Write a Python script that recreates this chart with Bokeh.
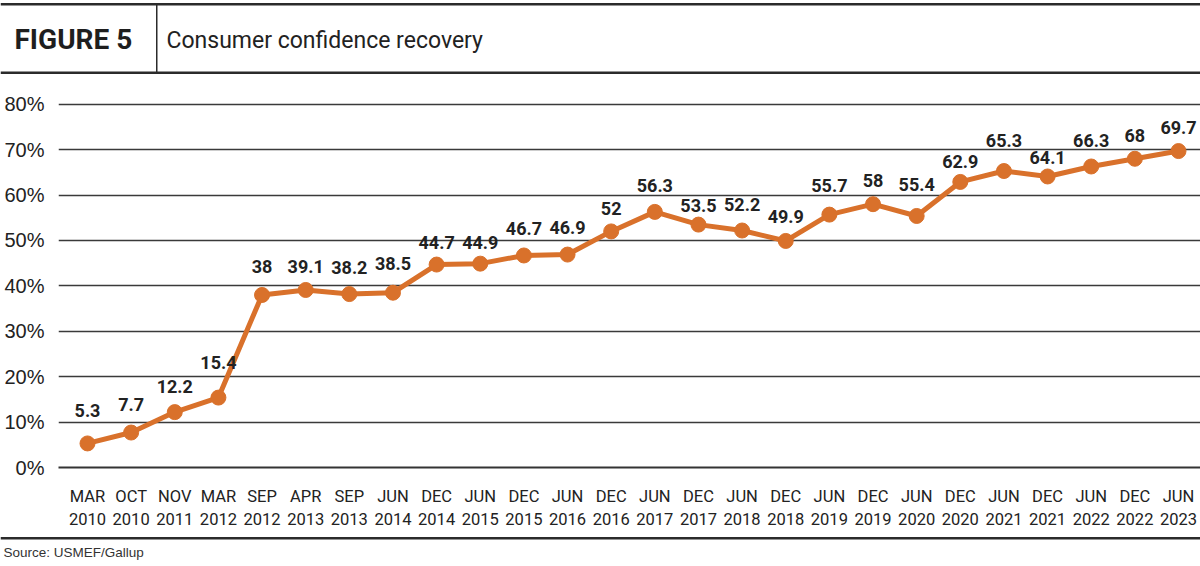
from bokeh.plotting import figure
from bokeh.layouts import column
from bokeh.models import ColumnDataSource, FixedTicker, Range1d
from bokeh.core.properties import value
from bokeh.embed import file_html
from bokeh.resources import INLINE

# ---- data ----
months = ["MAR", "OCT", "NOV", "MAR", "SEP", "APR", "SEP", "JUN", "DEC", "JUN",
          "DEC", "JUN", "DEC", "JUN", "DEC", "JUN", "DEC", "JUN", "DEC", "JUN",
          "DEC", "JUN", "DEC", "JUN", "DEC", "JUN"]
years = ["2010", "2010", "2011", "2012", "2012", "2013", "2013", "2014", "2014", "2015",
         "2015", "2016", "2016", "2017", "2017", "2018", "2018", "2019", "2019", "2020",
         "2020", "2021", "2021", "2022", "2022", "2023"]
confidence = [5.3, 7.7, 12.2, 15.4, 38, 39.1, 38.2, 38.5, 44.7, 44.9,
              46.7, 46.9, 52, 56.3, 53.5, 52.2, 49.9, 55.7, 58, 55.4,
              62.9, 65.3, 64.1, 66.3, 68, 69.7]
y_ticks = [0, 10, 20, 30, 40, 50, 60, 70, 80]

# label placement (pixels above each point), as in the original layout
label_lift = [33, 28, 26, 35, 28, 23, 27, 29, 22, 21, 27, 27, 23, 26, 19, 26,
              24, 29, 24, 31, 20, 31, 19, 26, 23, 24]

title_tag = "FIGURE 5"
title_text = "Consumer confidence recovery"
source_text = "Source: USMEF/Gallup"

ORANGE = "#D9712B"
DARK = "#222222"
LINE = "#3a3a3a"
RULE = "#2b2b2b"
W = 1200


def blank_fig(h):
    f = figure(width=W, height=h, output_backend="svg", toolbar_location=None,
               min_border=0, x_range=Range1d(0, W), y_range=Range1d(h, 0),
               frame_align=False)
    f.axis.visible = False
    f.grid.visible = False
    f.outline_line_color = None
    f.background_fill_color = "white"
    f.border_fill_color = "white"
    return f


# ---- header ----
HH = 76
header = blank_fig(HH)
header.quad(left=[0, 0, 155.5], right=[W, W, 157], top=[2.5, 71, 4], bottom=[5, 73.5, 72],
            fill_color=RULE, line_color=None)
header.text(x=[14], y=[39], text=[title_tag], text_font=value("Roboto"),
            text_font_style="bold", text_font_size="28px", text_color="#1e1e1e",
            text_baseline="middle", text_align="left")
header.text(x=[166], y=[40], text=[title_text], text_font=value("Roboto"),
            text_font_size="23px", text_color=DARK,
            text_baseline="middle", text_align="left")

# ---- main chart ----
n = len(confidence)
idx = list(range(n))
labels = [("%g" % v) for v in confidence]
src = ColumnDataSource(dict(x=idx, y=confidence, label=labels,
                            off=[-v for v in label_lift]))

MH = 456
p = figure(width=W, height=MH, output_backend="svg", toolbar_location=None,
           min_border_left=58, min_border_right=0, min_border_top=4, min_border_bottom=65,
           x_range=Range1d(-0.6645, 25.504), y_range=Range1d(0, 85.24),
           frame_align=False)
p.outline_line_color = None
p.background_fill_color = "white"
p.border_fill_color = "white"

p.xgrid.grid_line_color = None
p.ygrid.ticker = FixedTicker(ticks=y_ticks)
p.ygrid.grid_line_color = LINE
p.ygrid.grid_line_width = 1.3

p.yaxis.ticker = FixedTicker(ticks=y_ticks)
p.yaxis.major_label_overrides = {t: "%d%%" % t for t in y_ticks}
p.yaxis.axis_line_color = None
p.yaxis.major_tick_line_color = None
p.yaxis.minor_tick_line_color = None
p.yaxis.major_label_standoff = 8
p.yaxis.major_label_text_font = "Liberation Sans"
p.yaxis.major_label_text_font_size = "20px"
p.yaxis.major_label_text_color = DARK

p.xaxis.ticker = FixedTicker(ticks=idx)
p.xaxis.major_label_overrides = {i: months[i] + "\n" + years[i] for i in idx}
p.xaxis.axis_line_color = "#333333"
p.xaxis.axis_line_width = 2
p.xaxis.major_tick_line_color = None
p.xaxis.minor_tick_line_color = None
p.xaxis.major_label_standoff = 13
p.xaxis.major_label_text_font = "Roboto"
p.xaxis.major_label_text_font_size = "16.5px"
p.xaxis.major_label_text_color = DARK
p.xaxis.major_label_text_line_height = 1.25

p.line("x", "y", source=src, line_color=ORANGE, line_width=5)
p.scatter("x", "y", source=src, size=15, fill_color=ORANGE, line_color=ORANGE)
p.text("x", "y", text="label", source=src, y_offset="off",
       text_align="center", text_baseline="middle",
       text_font=value("Roboto"), text_font_style="bold",
       text_font_size="18px", text_color=DARK)

# ---- footer ----
FH = 34
footer = blank_fig(FH)
footer.quad(left=[0], right=[W], top=[4.5], bottom=[7], fill_color=RULE, line_color=None)
footer.text(x=[3], y=[20], text=[source_text], text_font=value("Liberation Sans"),
            text_font_size="13.5px", text_color="#333333",
            text_baseline="middle", text_align="left")

layout = column(header, p, footer, spacing=0)
open("out.html", "w").write(file_html(layout, INLINE))
